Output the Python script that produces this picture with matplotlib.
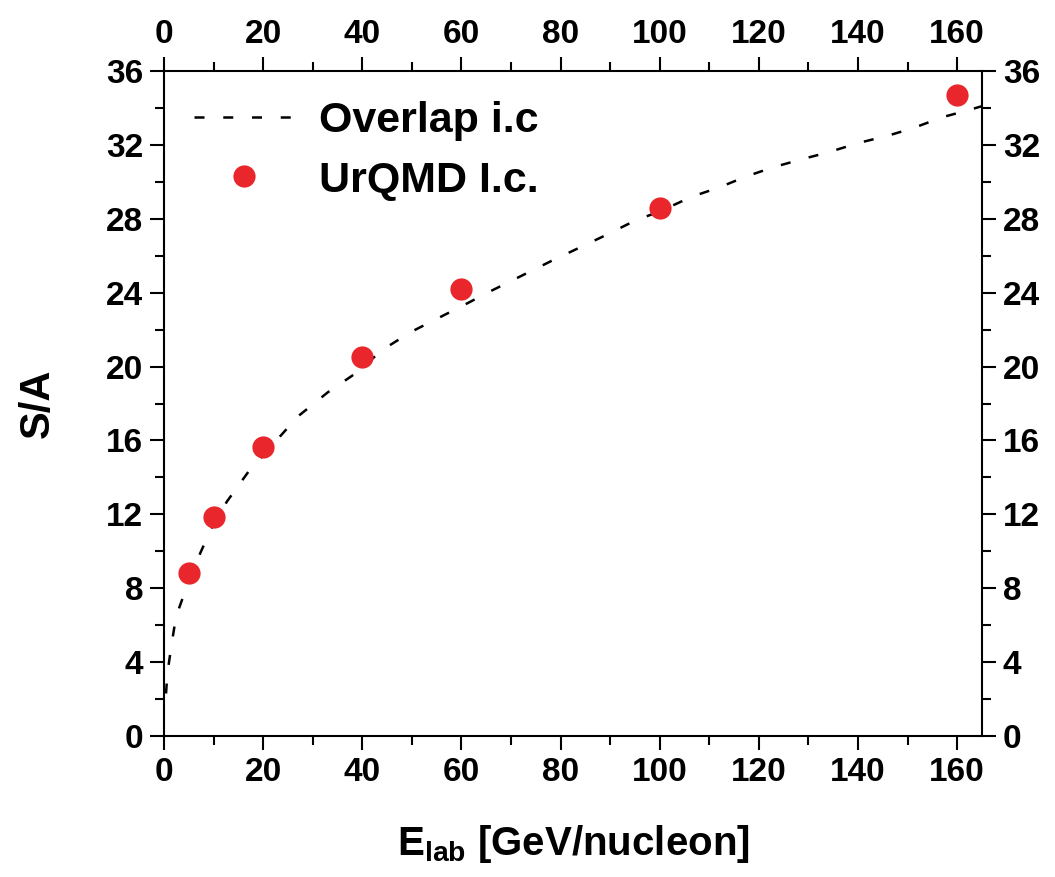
import numpy as np
import matplotlib
matplotlib.use("Agg")
import matplotlib.pyplot as plt
from matplotlib.ticker import MultipleLocator

plt.rcParams['font.family'] = ['Liberation Sans', 'DejaVu Sans']
plt.rcParams['font.weight'] = 'bold'
plt.rcParams['mathtext.fontset'] = 'custom'
plt.rcParams['mathtext.rm'] = 'Liberation Sans:bold'
plt.rcParams['mathtext.bf'] = 'Liberation Sans:bold'

# Overlap initial conditions (dashed curve)
e_overlap = [0.4, 0.6, 1.0, 1.6, 2.2, 3.0, 3.8, 5, 7.3, 10, 12.7, 17, 20, 27,
             33, 39, 44, 50, 61, 66, 72, 78, 83.5, 89, 95, 100, 106.5, 112,
             117.5, 123, 129, 134, 140, 146, 151, 157, 162.5, 165]
s_overlap = [2.3, 3.1, 4.0, 5.1, 6.1, 6.9, 7.5, 8.4, 9.9, 11.5, 12.7, 14.3,
             15.2, 17.3, 18.6, 19.7, 20.9, 21.9, 23.4, 24.1, 24.9, 25.7, 26.4,
             27.1, 27.9, 28.4, 29.2, 29.7, 30.3, 30.8, 31.25, 31.6, 32.1, 32.5,
             32.9, 33.5, 33.9, 34.1]

# UrQMD initial conditions (red dots)
e_urqmd = [5, 10, 20, 40, 60, 100, 160]
s_urqmd = [8.85, 11.85, 15.65, 20.5, 24.2, 28.6, 34.7]

fig = plt.figure(figsize=(10.55, 8.77), dpi=100)
ax = fig.add_axes([0.1555, 0.1608, 0.7753, 0.7582])

ax.plot(e_overlap, s_overlap, color='k', lw=1.8, dashes=(4, 7.5),
        label='Overlap i.c')
ax.plot(e_urqmd, s_urqmd, 'o', color='#e8262b', markersize=16,
        markeredgewidth=0, label='UrQMD I.c.')

ax.set_xlim(0, 165)
ax.set_ylim(0, 36)
ax.xaxis.set_major_locator(MultipleLocator(20))
ax.xaxis.set_minor_locator(MultipleLocator(10))
ax.yaxis.set_major_locator(MultipleLocator(4))
ax.yaxis.set_minor_locator(MultipleLocator(2))

ax.tick_params(which='both', direction='out', top=True, right=True,
               labeltop=True, labelright=True, width=1.5, labelsize=24)
ax.tick_params(which='major', length=10, pad=5)
ax.tick_params(which='minor', length=6.5)
for s in ax.spines.values():
    s.set_linewidth(1.5)

ax.set_xlabel(r'E$_{\mathbf{lab}}$ [GeV/nucleon]', fontsize=29,
              fontweight='bold', labelpad=25)
ax.set_ylabel('S/A', fontsize=30, fontweight='bold', labelpad=35)

leg = ax.legend(loc='upper left', frameon=False, fontsize=31,
                handlelength=2.3, handletextpad=0.6, labelspacing=0.45,
                borderaxespad=0.3, numpoints=1)

fig.savefig('out.png', dpi=100)
